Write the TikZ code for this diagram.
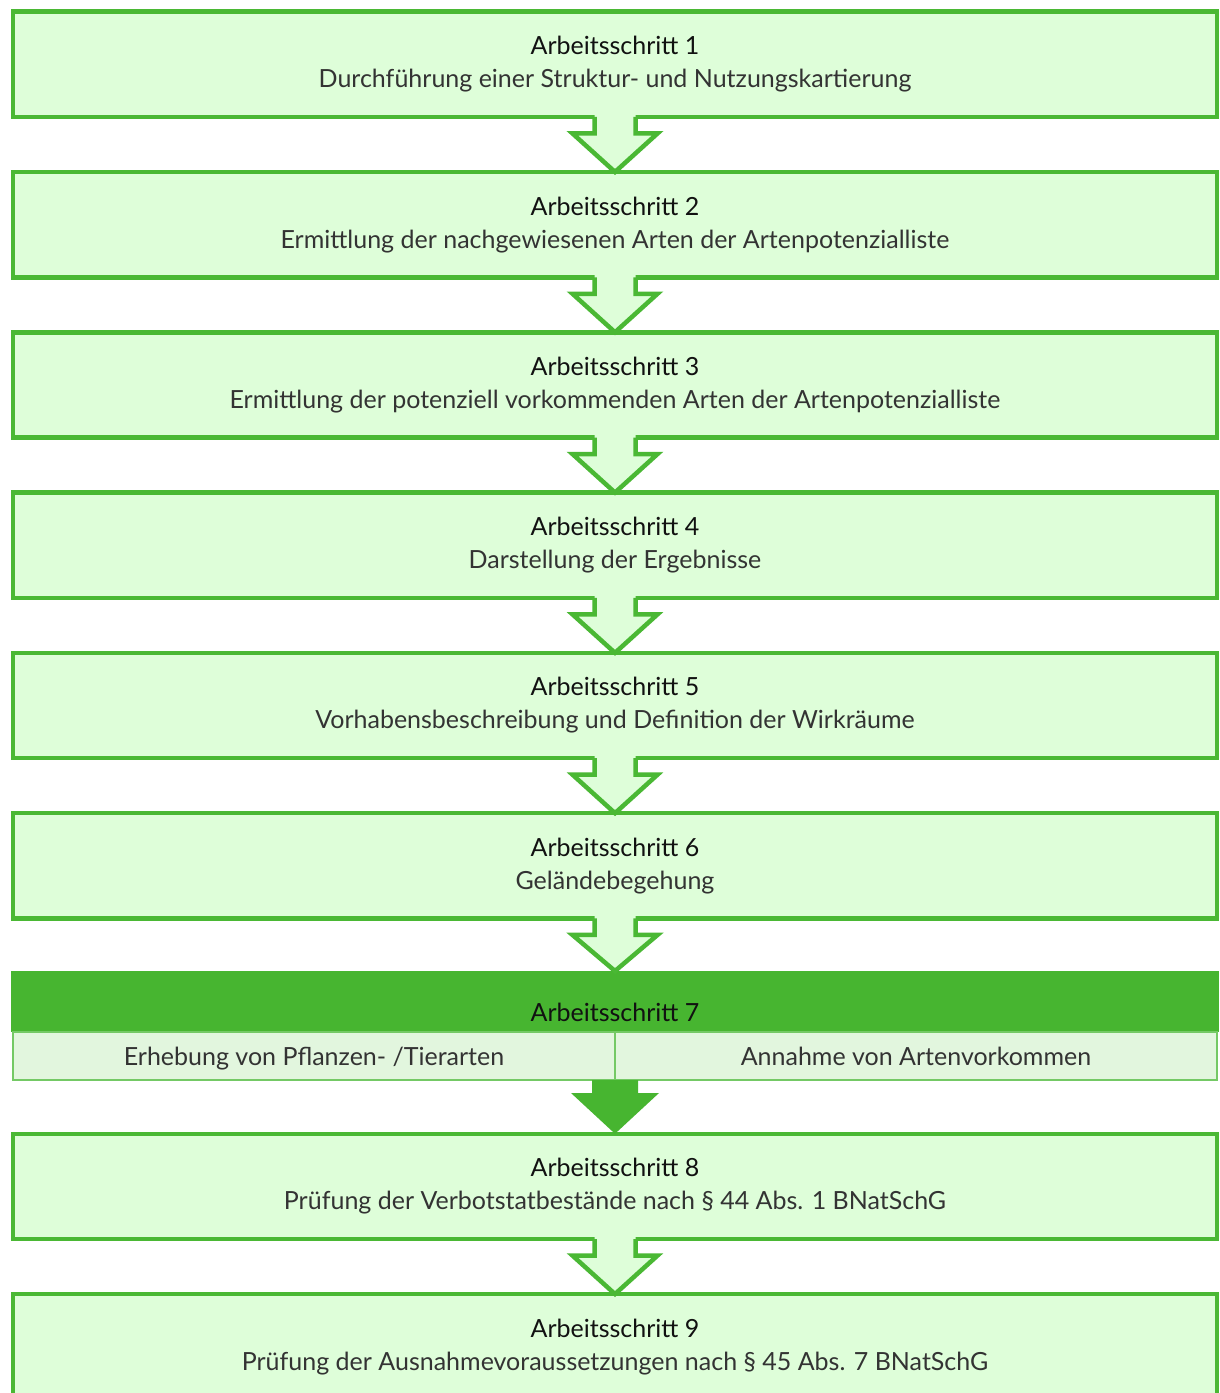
\documentclass[tikz,border=0pt]{standalone}
\usepackage{fontspec}
\setmainfont{Lato}
\usepackage{xcolor}
\usepackage{tikz}
\usetikzlibrary{calc}
\definecolor{Leaf}{HTML}{4AB834}
\definecolor{LeafDark}{HTML}{47B530}
\definecolor{LeafLight}{HTML}{74C965}
\definecolor{Mint}{HTML}{DEFED9}
\definecolor{MintPale}{HTML}{E2F6DE}
\definecolor{Ink}{HTML}{111111}
\definecolor{InkSoft}{HTML}{333333}

\begin{document}
\begin{tikzpicture}[x=0.5pt,y=-0.5pt,font=\fontsize{12.5}{16.5}\selectfont,
  stepbox/.style={draw=Leaf,line width=2.25pt,fill=Mint,minimum width=602pt,minimum height=52.65pt,
    inner sep=0pt,outer sep=0pt,align=center,text=Ink},
  headbox/.style={fill=LeafDark,minimum width=604pt,minimum height=30.5pt,inner sep=0pt,outer sep=0pt,
    text height=20pt,text depth=0pt,text=Ink},
  subbox/.style={draw=LeafLight,line width=1pt,fill=MintPale,minimum width=301pt,minimum height=24pt,
    inner sep=0pt,outer sep=0pt,text height=10.5pt,text depth=1pt,text=InkSoft},
  hollowarrow/.style={draw=Leaf,line width=2.25pt}]
\clip (0,0) rectangle (1220,1393);
\fill[white] (0,0) rectangle (1220,1393);
\foreach \n/\y/\t in {1/64.3/Durchführung einer Struktur- und Nutzungskartierung,
  2/224.6/Ermittlung der nachgewiesenen Arten der Artenpotenzialliste,
  3/384.9/Ermittlung der potenziell vorkommenden Arten der Artenpotenzialliste,
  4/545.2/Darstellung der Ergebnisse,
  5/705.5/Vorhabensbeschreibung und Definition der Wirkräume,
  6/865.8/Geländebegehung,
  8/1186.4/Prüfung der Verbotstatbestände nach § 44 Abs. 1 BNatSchG,
  9/1346.7/Prüfung der Ausnahmevoraussetzungen nach § 45 Abs. 7 BNatSchG}{
  \node[stepbox] (s\n) at (615,\y) {Arbeitsschritt \n\\{\color{InkSoft}\t}};
}
% Arbeitsschritt 7
\node[headbox] (s7) at (615,1001.5) {Arbeitsschritt 7};
\node[subbox,anchor=north east] (s7a) at (s7.south) {Erhebung von Pflanzen- /Tierarten};
\node[subbox,anchor=north west] (s7b) at (s7.south) {Annahme von Artenvorkommen};
% arrows
\foreach \a/\b in {s1/s2,s2/s3,s3/s4,s4/s5,s5/s6,s6/s7,s8/s9}{
  \fill[Mint] ($(\a.south)+(-20.5,-3)$) |- ($(\a.south)+(-42.5,16.5)$) -- (\b.north)
    -- ($(\a.south)+(42.5,16.5)$) -| ($(\a.south)+(20.5,-3)$) -- cycle;
  \draw[hollowarrow] ($(\a.south)+(-20.5,0)$) |- ($(\a.south)+(-42.5,16.5)$) -- (\b.north)
    -- ($(\a.south)+(42.5,16.5)$) -| ($(\a.south)+(20.5,0)$);
}
\fill[LeafDark] ($(s7a.south east)+(-23,0)$) |- ($(s7a.south east)+(-44,13)$) -- (s8.north)
  -- ($(s7a.south east)+(44,13)$) -| ($(s7a.south east)+(23,0)$) -- cycle;
\end{tikzpicture}
\end{document}
